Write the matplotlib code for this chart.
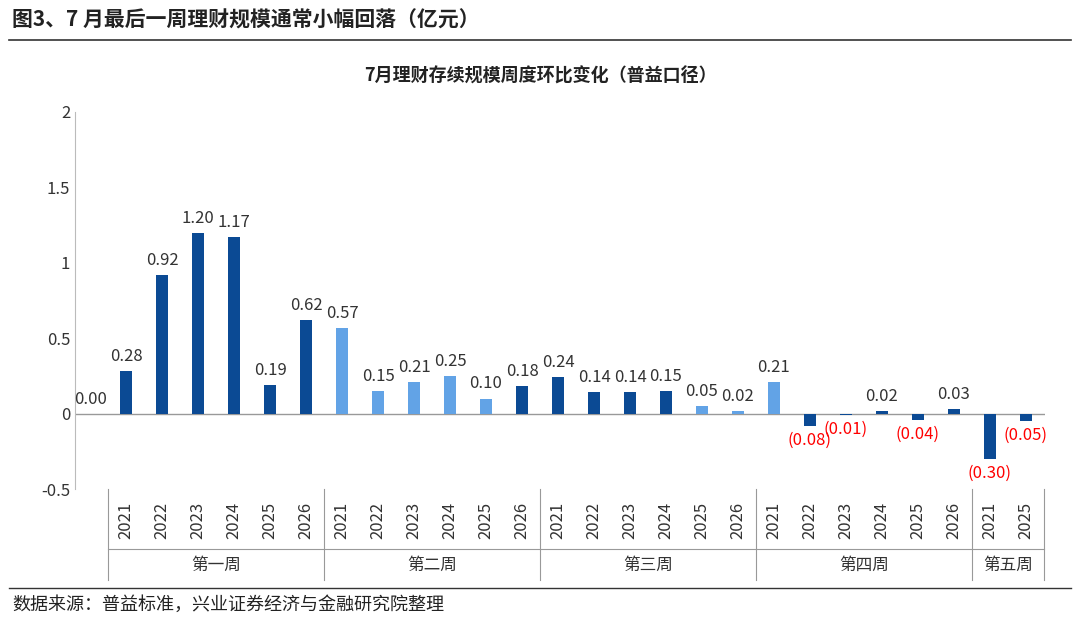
import matplotlib
matplotlib.use('Agg')
import matplotlib.pyplot as plt
from matplotlib.lines import Line2D

plt.rcParams['font.family'] = ['Noto Sans CJK SC', 'DejaVu Sans']

weeks = ['第一周', '第二周', '第三周', '第四周', '第五周']
years = [
    ['2021', '2022', '2023', '2024', '2025', '2026'],
    ['2021', '2022', '2023', '2024', '2025', '2026'],
    ['2021', '2022', '2023', '2024', '2025', '2026'],
    ['2021', '2022', '2023', '2024', '2025', '2026'],
    ['2021', '2025'],
]
values = [0.28, 0.92, 1.20, 1.17, 0.19, 0.62,
          0.57, 0.15, 0.21, 0.25, 0.10, 0.18,
          0.24, 0.14, 0.14, 0.15, 0.05, 0.02,
          0.21, -0.08, -0.01, 0.02, -0.04, 0.03,
          -0.30, -0.05]
light = [0, 0, 0, 0, 0, 0,
         1, 1, 1, 1, 1, 0,
         0, 0, 0, 0, 1, 1,
         1, 0, 0, 0, 0, 0,
         0, 0]
stray_label = 0.00

dark_c, light_c = '#0B4A94', '#62A3E6'

fig = plt.figure(figsize=(10.8, 6.17), dpi=100)
W, H = 1080, 617
ax = fig.add_axes([75 / W, 1 - 489 / H, 970 / W, 377 / H])

x = list(range(len(values)))
ax.bar(x, values, width=0.32, color=[light_c if l else dark_c for l in light], zorder=3)
for xi, v in zip(x, values):
    if v >= 0:
        ax.text(xi, v + 0.04, f'{v:.2f}', ha='center', va='bottom', fontsize=12, color='#333333')
    else:
        ax.text(xi, v - 0.04, f'({abs(v):.2f})', ha='center', va='top', fontsize=12, color='#FF0000')
ax.text(-1, stray_label + 0.04, f'{stray_label:.2f}', ha='center', va='bottom', fontsize=12, color='#333333')

ax.set_xlim(-1.42, 25.53)
ax.set_ylim(-0.5, 2)
ax.set_yticks([-0.5, 0, 0.5, 1, 1.5, 2])
ax.set_yticklabels(['-0.5', '0', '0.5', '1', '1.5', '2'], fontsize=12, color='#333333')
ax.set_xticks([])
ax.axhline(0, color='#999999', lw=1, zorder=2)
for s in ['top', 'right', 'bottom']:
    ax.spines[s].set_visible(False)
ax.spines['left'].set_color('#BBBBBB')
ax.tick_params(axis='y', length=0)

# category table under the axis
def fx(xd):
    return ax.transData.transform((xd, 0))[0] / W

fig.canvas.draw()
i = 0
seps = [fx(-0.5)]
for wk, yrs in zip(weeks, years):
    start = i
    for y in yrs:
        fig.text(fx(i), 1 - 520 / H, y, rotation=90, ha='center', va='center', fontsize=12, color='#333333')
        i += 1
    fig.text((fx(start - 0.5) + fx(i - 0.5)) / 2, 1 - 565 / H, wk, ha='center', va='center', fontsize=12, color='#333333')
    seps.append(fx(i - 0.5))
for s in seps:
    fig.add_artist(Line2D([s, s], [1 - 489 / H, 1 - 580 / H], color='#999999', lw=0.8))
fig.add_artist(Line2D([seps[0], seps[-1]], [1 - 549 / H, 1 - 549 / H], color='#999999', lw=0.8))

fig.text(12 / W, 1 - 20 / H, '图3、7 月最后一周理财规模通常小幅回落（亿元）', fontsize=15, fontweight='bold', va='center', color='#222222')
fig.add_artist(Line2D([0.008, 0.992], [1 - 40 / H, 1 - 40 / H], color='#333333', lw=1.2))
fig.text(0.5, 1 - 76 / H, '7月理财存续规模周度环比变化（普益口径）', fontsize=13, fontweight='bold', ha='center', va='center', color='#222222')
fig.add_artist(Line2D([0.008, 0.992], [1 - 588 / H, 1 - 588 / H], color='#333333', lw=1.0))
fig.text(12 / W, 1 - 605 / H, '数据来源：普益标准，兴业证券经济与金融研究院整理', fontsize=13, va='center', color='#222222')

fig.savefig('out.png', dpi=100)
